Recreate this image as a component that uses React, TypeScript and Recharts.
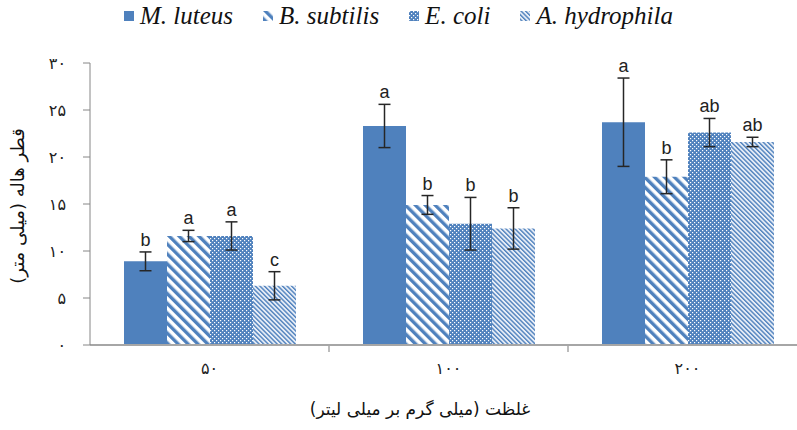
import React from "react";
import {
  BarChart,
  Bar,
  XAxis,
  YAxis,
  ErrorBar,
  LabelList,
  Legend,
  Label,
} from "recharts";

// zone-of-inhibition diameter (mm) per concentration (mg/ml), four strains
const concentrations = ["۵۰", "۱۰۰", "۲۰۰"];

const luteus = [8.9, 23.3, 23.7];
const luteusErr = [1.0, 2.3, 4.7];
const luteusSig = ["b", "a", "a"];

const subtilis = [11.6, 14.9, 17.9];
const subtilisErr = [0.6, 1.0, 1.8];
const subtilisSig = ["a", "b", "b"];

const coli = [11.6, 12.9, 22.6];
const coliErr = [1.5, 2.8, 1.5];
const coliSig = ["a", "b", "ab"];

const hydro = [6.3, 12.4, 21.6];
const hydroErr = [1.5, 2.2, 0.5];
const hydroSig = ["c", "b", "ab"];

const yTicks = [0, 5, 10, 15, 20, 25, 30];

const BLUE = "#4F81BD";
const FA_FONT = '"DejaVu Sans", sans-serif';

const toFa = (n: number | string) =>
  String(n).replace(/\d/g, (d) => "۰۱۲۳۴۵۶۷۸۹"[Number(d)]);

const data = concentrations.map((c, i) => ({
  conc: c,
  luteus: luteus[i],
  luteusErr: luteusErr[i],
  subtilis: subtilis[i],
  subtilisErr: subtilisErr[i],
  coli: coli[i],
  coliErr: coliErr[i],
  hydro: hydro[i],
  hydroErr: hydroErr[i],
}));

const series = [
  { key: "luteus", name: "M. luteus", fill: BLUE, vals: luteus, errs: luteusErr, sig: luteusSig },
  { key: "subtilis", name: "B. subtilis", fill: "url(#pSub)", vals: subtilis, errs: subtilisErr, sig: subtilisSig },
  { key: "coli", name: "E. coli", fill: "url(#pColi)", vals: coli, errs: coliErr, sig: coliSig },
  { key: "hydro", name: "A. hydrophila", fill: "url(#pHydro)", vals: hydro, errs: hydroErr, sig: hydroSig },
];

const sigLabel = (vals: number[], errs: number[], sig: string[]) => (p: any) => {
  const vb = p.viewBox && p.viewBox.height != null ? p.viewBox : p;
  const i = p.index;
  const x = Number(vb.x);
  const y = Number(vb.y);
  const w = Number(vb.width);
  const h = Number(vb.height);
  if (i == null || !isFinite(x) || !vals[i]) return null;
  const top = y - (errs[i] * h) / vals[i];
  return (
    <text
      x={x + w / 2}
      y={top - 6}
      textAnchor="middle"
      fontFamily='"Liberation Sans", Arial, sans-serif'
      fontSize={18}
      fill="#222"
    >
      {sig[i]}
    </text>
  );
};

const XTick = (p: any) => {
  const { x, y, payload, index } = p;
  const half = payload?.offset ?? 0;
  return (
    <g>
      {index > 0 && (
        <line x1={x - half} x2={x - half} y1={y} y2={y + 7} stroke="#A6A6A6" strokeWidth={1.5} />
      )}
      <text x={x} y={y + 29} textAnchor="middle" fontFamily={FA_FONT} fontSize={16} fill="#222">
        {payload.value}
      </text>
    </g>
  );
};

const renderLegend = () => (
  <div
    style={{
      display: "flex",
      justifyContent: "center",
      alignItems: "center",
      gap: 30,
      fontFamily: '"Liberation Serif", serif',
      fontStyle: "italic",
      fontSize: 25,
      color: "#111",
    }}
  >
    {series.map((s) => (
      <div key={s.key} style={{ display: "flex", alignItems: "center" }}>
        <svg width={10} height={10} style={{ marginRight: 6 }}>
          <rect width={10} height={10} fill={s.fill} />
        </svg>
        <span>{s.name}</span>
      </div>
    ))}
  </div>
);

export default function App() {
  return (
    <div
      style={{
        position: "fixed",
        left: 0,
        top: 0,
        width: 797,
        height: 430,
        overflow: "hidden",
        background: "#fff",
      }}
    >
      <BarChart
        width={817}
        height={430}
        data={data}
        margin={{ top: 63, right: 10, bottom: 55, left: 30 }}
        barGap={0}
        barSize={43}
      >
        <defs>
          <pattern id="pSub" width={7} height={7} patternUnits="userSpaceOnUse" patternTransform="rotate(-45)">
            <rect width={7} height={7} fill="#fff" />
            <rect width={3.4} height={7} fill={BLUE} />
          </pattern>
          <pattern id="pColi" width={4} height={4} patternUnits="userSpaceOnUse">
            <rect width={4} height={4} fill={BLUE} />
            <rect x={0} y={0} width={1.2} height={1.2} fill="#fff" />
            <rect x={2} y={2} width={1.2} height={1.2} fill="#fff" />
          </pattern>
          <pattern id="pHydro" width={3.2} height={3.2} patternUnits="userSpaceOnUse" patternTransform="rotate(-45)">
            <rect width={3.2} height={3.2} fill="#E8EEF7" />
            <rect width={1.4} height={3.2} fill={BLUE} />
          </pattern>
        </defs>
        <XAxis
          dataKey="conc"
          tick={<XTick />}
          tickLine={false}
          tickSize={0}
          tickMargin={0}
          axisLine={{ stroke: "#A6A6A6", strokeWidth: 2 }}
          height={30}
          interval={0}
        >
          <Label
            content={() => (
              <text x={420} y={415} textAnchor="middle" direction="rtl" fontFamily={FA_FONT} fontSize={17} fill="#111">
                غلظت (میلی گرم بر میلی لیتر)
              </text>
            )}
          />
        </XAxis>
        <YAxis
          domain={[0, 30]}
          ticks={yTicks}
          interval={0}
          width={60}
          tickSize={7}
          tickMargin={17}
          tickFormatter={(v: number) => toFa(v)}
          tick={{ fontFamily: FA_FONT, fontSize: 16, fill: "#222" }}
          tickLine={{ stroke: "#868686" }}
          axisLine={{ stroke: "#868686" }}
        >
          <Label
            content={() => (
              <text
                x={24}
                y={206}
                transform="rotate(-90 24 206)"
                textAnchor="middle"
                direction="rtl"
                fontFamily={FA_FONT}
                fontSize={18}
                fill="#111"
              >
                قطر هاله (میلی متر)
              </text>
            )}
          />
        </YAxis>
        <Legend
          layout="horizontal"
          verticalAlign="middle"
          align="center"
          wrapperStyle={{ top: 2, left: 0, width: 797, height: 34 }}
          content={renderLegend}
        />
        {series.map((s) => (
          <Bar key={s.key} dataKey={s.key} name={s.name} fill={s.fill} isAnimationActive={false}>
            <ErrorBar dataKey={`${s.key}Err`} width={6} stroke="#262626" strokeWidth={1.5} direction="y" />
            <LabelList dataKey={s.key} content={sigLabel(s.vals, s.errs, s.sig)} />
          </Bar>
        ))}
      </BarChart>
    </div>
  );
}
